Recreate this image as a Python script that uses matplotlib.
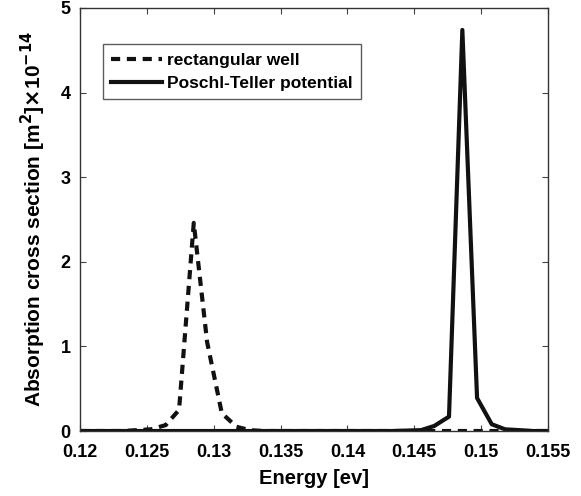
import matplotlib
matplotlib.use('Agg')
import matplotlib.pyplot as plt

plt.rcParams['font.family'] = ['Liberation Sans', 'DejaVu Sans']
plt.rcParams['font.weight'] = 'bold'
plt.rcParams['mathtext.default'] = 'bf'

# energy grid (ev)
energy = [0.1200, 0.1211, 0.1221, 0.1232, 0.1242, 0.1253, 0.1264, 0.1274,
          0.1285, 0.1295, 0.1306, 0.1317, 0.1327, 0.1338, 0.1349, 0.1359,
          0.1370, 0.1380, 0.1391, 0.1402, 0.1412, 0.1423, 0.1433, 0.1444,
          0.1455, 0.1465, 0.1476, 0.1486, 0.1497, 0.1508, 0.1518, 0.1529,
          0.1539, 0.1550]

rect_well = [0.0, 0.0, 0.0, 0.0, 0.01, 0.02, 0.07, 0.25,
             2.46, 1.05, 0.21, 0.05, 0.01, 0.0, 0.0, 0.0,
             0.0, 0.0, 0.0, 0.0, 0.0, 0.0, 0.0, 0.0,
             0.0, 0.0, 0.0, 0.0, 0.0, 0.0, 0.0, 0.0,
             0.0, 0.0]

poschl_teller = [0.0, 0.0, 0.0, 0.0, 0.0, 0.0, 0.0, 0.0,
                 0.0, 0.0, 0.0, 0.0, 0.0, 0.0, 0.0, 0.0,
                 0.0, 0.0, 0.0, 0.0, 0.0, 0.0, 0.0, 0.005,
                 0.01, 0.06, 0.17, 4.74, 0.39, 0.08, 0.02, 0.01,
                 0.0, 0.0]

fig = plt.figure(figsize=(5.81, 4.96), dpi=100)
ax = fig.add_axes([0.138, 0.131, 0.805, 0.853])

ax.plot(energy, rect_well, color='#111111', linestyle=(0, (2.2, 1.6)), linewidth=3,
        label='rectangular well')
ax.plot(energy, poschl_teller, color='#111111', linestyle='-', linewidth=3,
        label='Poschl-Teller potential')

ax.set_xlim(0.12, 0.155)
ax.set_ylim(0, 5)
ax.set_xticks([0.12, 0.125, 0.13, 0.135, 0.14, 0.145, 0.15, 0.155])
ax.set_xticklabels(['0.12', '0.125', '0.13', '0.135', '0.14', '0.145', '0.15', '0.155'])
ax.set_yticks([0, 1, 2, 3, 4, 5])
ax.tick_params(direction='in', top=True, right=True, labelsize=13, length=4,
               color='#444444')
ax.tick_params(axis='x', pad=9)
ax.tick_params(axis='y', pad=7)
for s in ax.spines.values():
    s.set_color('#333333')
    s.set_linewidth(1.0)

ax.set_xlabel('Energy [ev]', fontsize=14.5, fontweight='bold', labelpad=6)
ax.set_ylabel(r'Absorption cross section [m$^2$]$\times$10$^{-14}$', fontsize=15,
              fontweight='bold', labelpad=9)

leg = ax.legend(loc='upper left', bbox_to_anchor=(0.048, 0.915),
                prop={'weight': 'bold', 'size': 12.5}, frameon=True, fancybox=False,
                handlelength=2.9, handletextpad=0.3, borderpad=0.5, labelspacing=0.45,
                borderaxespad=0)
leg.get_frame().set_edgecolor('#333333')
leg.get_frame().set_linewidth(1.0)

fig.savefig('out.png', dpi=100)
